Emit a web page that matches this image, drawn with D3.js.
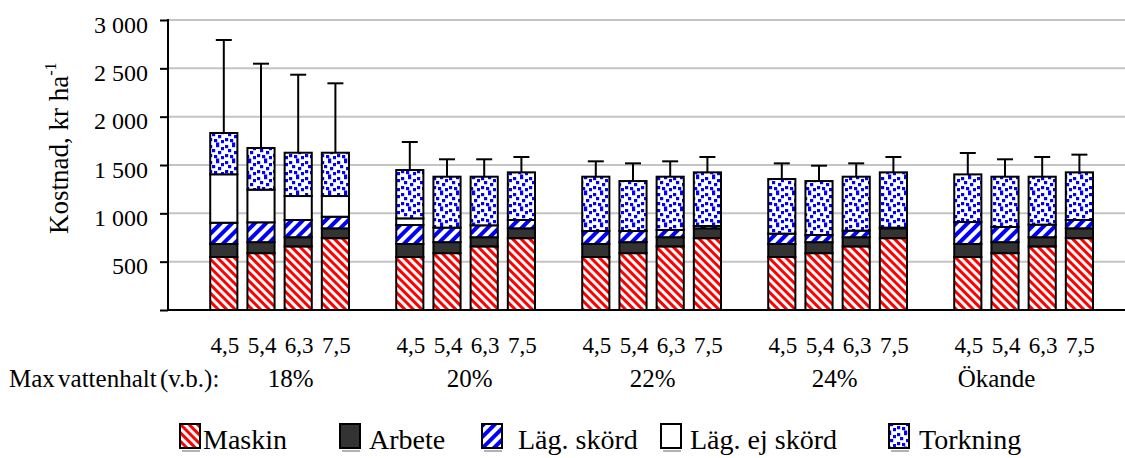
<!DOCTYPE html>
<html>
<head>
<meta charset="utf-8">
<script src="https://cdn.jsdelivr.net/npm/d3@7"></script>
<style>
  html, body { margin: 0; padding: 0; background: #fff; }
  svg, svg text { font-family: "Liberation Serif", "Times New Roman", Times, serif !important; }
</style>
</head>
<body>
<svg id="chart" width="1125" height="458"></svg>
<script>
// ---------- DATA ----------
const groups = ["18%", "20%", "22%", "24%", "Ökande"];
const sizes = ["4,5", "5,4", "6,3", "7,5"];
const seriesNames = ["Maskin", "Arbete", "Läg. skörd", "Läg. ej skörd", "Torkning"];

const maskin = [
  [548, 588, 658, 743],
  [548, 588, 658, 743],
  [548, 588, 658, 743],
  [548, 588, 658, 743],
  [548, 588, 658, 743]
];
const arbete = [
  [135, 114, 95, 102],
  [135, 114, 95, 102],
  [135, 114, 95, 102],
  [135, 114, 95, 102],
  [135, 114, 95, 102]
];
const lagSkord = [
  [220, 205, 178, 120],
  [196, 150, 123, 86],
  [134, 115, 75, 24],
  [107, 74, 68, 7],
  [227, 157, 130, 86]
];
const lagEjSkord = [
  [501, 338, 248, 214],
  [69, 0, 0, 0],
  [0, 0, 0, 0],
  [0, 0, 0, 0],
  [0, 0, 0, 0]
];
const torkning = [
  [427, 431, 448, 448],
  [500, 527, 503, 493],
  [562, 517, 551, 555],
  [565, 558, 558, 572],
  [493, 520, 496, 493]
];
const errUp = [
  [962, 872, 807, 718],
  [290, 180, 180, 159],
  [159, 183, 159, 159],
  [162, 159, 138, 159],
  [221, 180, 204, 183]
];
const yTicks = [0, 500, 1000, 1500, 2000, 2500, 3000];
const yTitle = "Kostnad, kr ha";
const yTitleSup = "-1";
const rowTitle = "Max vattenhalt (v.b.):";

// ---------- TABLE ----------
const seriesArrays = [maskin, arbete, lagSkord, lagEjSkord, torkning];
const rows = [];
groups.forEach((g, gi) => sizes.forEach((s, si) => {
  const r = { group: g, size: s, gi, si, err: errUp[gi][si] };
  seriesNames.forEach((k, ki) => r[k] = seriesArrays[ki][gi][si]);
  rows.push(r);
}));

// ---------- LAYOUT ----------
const FONT = "'Liberation Serif', 'Times New Roman', Times, serif";
const svg = d3.select("#chart").attr("font-family", FONT);
const plotLeft = 168, plotRight = 1125, slot = 37.2;
const y = d3.scaleLinear().domain([0, 3000]).range([310, 20]);
const x0 = d3.scaleBand().domain(groups)
  .range([plotLeft + slot, plotLeft + slot + groups.length * 5 * slot]);
const x1 = d3.scaleBand().domain(sizes)
  .range([0, 4 * slot]).paddingInner(0.27).paddingOuter(0.135);

// ---------- PATTERNS ----------
const defs = svg.append("defs");
function stripes(id, color, w, sw, angle) {
  const p = defs.append("pattern").attr("id", id).attr("patternUnits", "userSpaceOnUse")
    .attr("width", w).attr("height", w).attr("patternTransform", `rotate(${angle})`);
  p.append("rect").attr("width", w).attr("height", w).attr("fill", "#fff");
  p.append("rect").attr("width", sw).attr("height", w).attr("fill", color);
}
stripes("pMaskin", "#ff0000", 6, 3, -45);
stripes("pLag", "#0000ff", 8, 4, 45);
const dots = defs.append("pattern").attr("id", "pTork").attr("patternUnits", "userSpaceOnUse")
  .attr("width", 16).attr("height", 16);
dots.append("rect").attr("width", 16).attr("height", 16).attr("fill", "#fff");
[[1, 1], [8, 0], [13, 3], [4, 5], [10, 7], [1, 10], [6, 11], [13, 12], [8, 14.5]].forEach(([a, b]) =>
  dots.append("rect").attr("x", a).attr("y", b).attr("width", 3.2).attr("height", 3.2).attr("fill", "#0000ff"));

const fills = {
  "Maskin": "url(#pMaskin)",
  "Arbete": "#333333",
  "Läg. skörd": "url(#pLag)",
  "Läg. ej skörd": "#ffffff",
  "Torkning": "url(#pTork)"
};

// ---------- GRID ----------
svg.append("g").selectAll("line").data(yTicks.filter(d => d > 0)).join("line")
  .attr("x1", plotLeft).attr("x2", plotRight)
  .attr("y1", d => y(d)).attr("y2", d => y(d))
  .attr("stroke", "#c4c4c4").attr("stroke-width", 2);

// ---------- BARS ----------
const stack = d3.stack().keys(seriesNames);
const stacked = stack(rows);
const barG = svg.append("g");
stacked.forEach(layer => {
  barG.append("g").selectAll("rect")
    .data(layer.filter(d => d[1] - d[0] > 0)).join("rect")
    .attr("x", d => x0(d.data.group) + x1(d.data.size))
    .attr("width", x1.bandwidth())
    .attr("y", d => y(d[1]))
    .attr("height", d => y(d[0]) - y(d[1]))
    .attr("fill", fills[layer.key])
    .attr("stroke", "#000").attr("stroke-width", 2);
});

// ---------- ERROR BARS ----------
const totals = rows.map(r => seriesNames.reduce((a, k) => a + r[k], 0));
const eg = svg.append("g").attr("stroke", "#000").attr("stroke-width", 2);
rows.forEach((r, i) => {
  const cx = x0(r.group) + x1(r.size) + x1.bandwidth() / 2;
  eg.append("line").attr("x1", cx).attr("x2", cx)
    .attr("y1", y(totals[i])).attr("y2", y(totals[i] + r.err));
  eg.append("line").attr("x1", cx - 8).attr("x2", cx + 8)
    .attr("y1", y(totals[i] + r.err)).attr("y2", y(totals[i] + r.err));
});

// ---------- AXES ----------
const fmt = d => d === 0 ? "" : (d >= 1000 ? Math.floor(d / 1000) + "\u00a0" + String(d % 1000).padStart(3, "0") : String(d));
const yAxis = svg.append("g").attr("transform", `translate(${plotLeft},0)`)
  .call(d3.axisLeft(y).tickValues(yTicks).tickSize(8).tickPadding(12).tickFormat(fmt));
yAxis.attr("font-family", FONT).attr("font-size", 24);
yAxis.select(".domain").remove();
yAxis.selectAll(".tick line").attr("stroke", "#000").attr("stroke-width", 2);
yAxis.selectAll(".tick text").attr("font-size", 24).attr("font-family", FONT)
  .attr("fill", "#000").attr("dy", "0.5em");

svg.append("line").attr("x1", plotLeft).attr("x2", plotLeft).attr("y1", y(3000) - 1).attr("y2", y(0) + 1)
  .attr("stroke", "#000").attr("stroke-width", 2);
svg.append("line").attr("x1", plotLeft).attr("x2", plotRight).attr("y1", y(0)).attr("y2", y(0))
  .attr("stroke", "#000").attr("stroke-width", 2);

// x tick labels
svg.append("g").selectAll("text").data(rows).join("text")
  .attr("x", d => x0(d.group) + x1(d.size) + x1.bandwidth() / 2 + 1)
  .attr("y", 353).attr("text-anchor", "middle").attr("font-size", 23).attr("fill", "#000")
  .attr("font-family", FONT).text(d => d.size);

// group labels row
const groupLabelOffset = [11, 4, 1, -3, -27];
svg.append("text").attr("x", 9).attr("y", 387).attr("font-size", 25).attr("fill", "#000")
  .attr("font-family", FONT).attr("word-spacing", "-3").text(rowTitle);
svg.append("g").selectAll("text").data(groups).join("text")
  .attr("x", (d, i) => x0(d) + 2 * slot + groupLabelOffset[i])
  .attr("y", 387).attr("text-anchor", "middle").attr("font-size", 25).attr("fill", "#000")
  .attr("font-family", FONT).text(d => d);

// y title
const yt = svg.append("text").attr("transform", "translate(68,234) rotate(-90)")
  .attr("font-size", 27).attr("fill", "#000").attr("font-family", FONT);
yt.append("tspan").text(yTitle);
yt.append("tspan").attr("font-size", 16).attr("dy", -12).text(yTitleSup);

// ---------- LEGEND ----------
const legendSwatchX = [180, 340, 482, 661, 889];
const legendTextX = [203, 369, 518, 690, 919];
const lg = svg.append("g");
seriesNames.forEach((k, i) => {
  lg.append("rect").attr("x", legendSwatchX[i]).attr("y", 424).attr("width", 20).attr("height", 24)
    .attr("fill", fills[k]).attr("stroke", "#000").attr("stroke-width", 2);
  lg.append("line").attr("x1", legendSwatchX[i] + 2).attr("x2", legendSwatchX[i] + 20)
    .attr("y1", 451).attr("y2", 451).attr("stroke", "#666").attr("stroke-width", 1);
  lg.append("text").attr("x", legendTextX[i]).attr("y", 449).attr("font-size", 28).attr("fill", "#000")
    .attr("font-family", FONT).text(k);
});
</script>
</body>
</html>
